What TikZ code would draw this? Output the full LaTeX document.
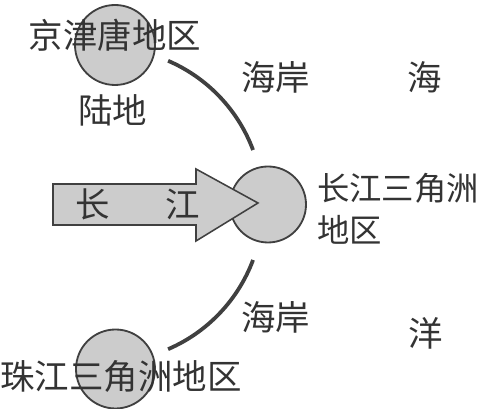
\documentclass[tikz,border=0pt]{standalone}
\usepackage{fontspec}
\newfontfamily\cjk{Noto Sans CJK SC}

\tikzset{
  region/.style={draw=black!75,line width=1.3pt,fill=black!20},
  coast/.style={draw=black!75,line width=2.7pt},
  lbl/.style={inner sep=0pt,text=black!80,font=\cjk\fontsize{24.5}{28}\selectfont}
}

\begin{document}
\begin{tikzpicture}[scale=0.025]
        \useasboundingbox (0,0) rectangle (486,409);

        % regions
        \filldraw[region](115,364)circle(40);
        \filldraw[region](268,204.5)circle(38);
        \filldraw[region](115.5,40)circle(39.5);

        % river arrow
        \filldraw[region,line width=1.1pt](53,225)--(196,225)--(196,240)--(258,206)--(196,168)--(196,184)--(53,184)--cycle;

        % coast line
        \draw[coast](106,204)++(66.7:157)arc(66.7:20.5:157);
        \draw[coast](106,204)++(-20.5:157)arc(-20.5:-66.7:157);

        \node[lbl](jjt) at (115,374){京津唐地区};
        \node[lbl](land) at (113,299){陆地};
        \node[lbl](coastA) at (276,332){海岸};
        \node[lbl](seaA) at (425,332){海};
        \node[lbl,anchor=west,align=left,text depth=0pt,font=\cjk\fontsize{23}{27}\selectfont](cjsj) at (317,201){长江三角洲\\[3pt]地区};
        \node[lbl](coastB) at (276,92){海岸};
        \node[lbl](seaB) at (426,76){洋};
        \node[lbl](zjsj) at (121,32){珠江三角洲地区};
        \node[lbl](chang) at (93,205){长};
        \node[lbl](jiang) at (183,205){江};
    \end{tikzpicture}
\end{document}
